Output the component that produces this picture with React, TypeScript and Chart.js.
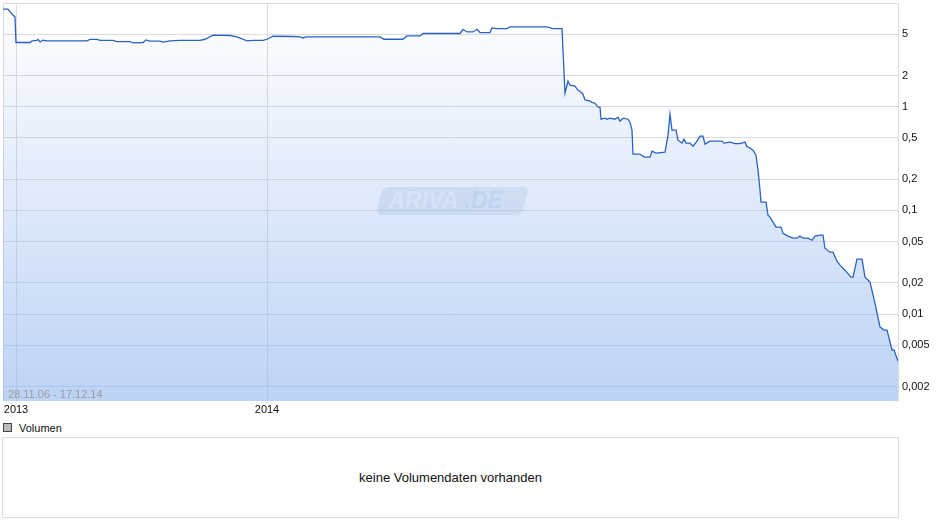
import React, { useEffect, useRef } from 'react';
import { Chart, registerables } from 'chart.js';

Chart.register(...registerables);

// trading-day index since start of the window and closing price
const dayIdx = [
  0, 5, 8, 10, 12, 13, 27, 29, 34, 35, 37, 40, 44, 84, 87, 94, 97, 110, 114, 127, 130, 140, 143, 147,
  157, 160, 167, 177, 197, 202, 210, 227, 234, 244, 250, 260, 264, 270, 290, 297, 300, 303, 377, 381,
  400, 404, 417, 420, 457, 460, 464, 470, 474, 477, 487, 489, 494, 504, 507, 544, 550, 559,
  562, 565, 567, 572, 575, 577, 580, 582, 587, 589, 592, 595, 597, 598, 602, 604, 607, 612, 615, 617,
  620, 625, 627, 629, 630, 637, 640, 642, 647, 649, 653, 662, 665, 667, 669, 673, 675, 679, 681, 683,
  687, 690, 694, 697, 700, 702, 707, 712, 719, 721, 727, 732, 737, 742, 744, 745, 750, 753, 755, 757,
  758, 763, 765, 767, 770, 773, 778, 780, 785, 790, 794, 797, 800, 805, 809, 812, 817, 820, 822, 827,
  830, 834, 837, 842, 848, 850, 854, 859, 862, 867, 872, 877, 881, 884, 889, 891, 895,
];
const price = [
  8.71, 8.71, 8.03, 7.62, 7.34, 4.16, 4.16, 4.31, 4.37, 4.45, 4.21, 4.37, 4.31, 4.31, 4.45, 4.45,
  4.37, 4.37, 4.25, 4.25, 4.12, 4.16, 4.41, 4.28, 4.28, 4.19, 4.31, 4.37, 4.37, 4.47, 4.89, 4.86,
  4.71, 4.31, 4.37, 4.37, 4.47, 4.78, 4.75, 4.71, 4.6, 4.71, 4.71, 4.47, 4.47, 4.81, 4.81, 5.08,
  5.08, 5.58, 5.26, 5.26, 5.58, 5.19, 5.19, 5.75, 5.67, 5.67, 5.88, 5.88, 5.67, 5.67,
  1.35, 1.76, 1.61, 1.58, 1.44, 1.41, 1.32, 1.16, 1.13, 1.1, 1.08, 0.99, 0.99, 0.757, 0.774, 0.757,
  0.774, 0.757, 0.792, 0.724, 0.774, 0.757, 0.708, 0.593, 0.348, 0.348, 0.333, 0.326, 0.326, 0.372,
  0.356, 0.364, 0.531, 0.847, 0.593, 0.593, 0.475, 0.445, 0.486, 0.445, 0.445, 0.416, 0.465, 0.519,
  0.519, 0.435, 0.465, 0.465, 0.465, 0.445, 0.455, 0.44, 0.44, 0.455, 0.41, 0.41, 0.38, 0.341, 0.244,
  0.157, 0.12, 0.12, 0.09, 0.086, 0.077, 0.069, 0.069, 0.06, 0.0564, 0.0539, 0.0539, 0.0564, 0.0539,
  0.0539, 0.0515, 0.0564, 0.0577, 0.0577, 0.0431, 0.0395, 0.0395, 0.0323, 0.0296, 0.0265, 0.0227,
  0.0227, 0.0338, 0.0338, 0.0227, 0.0203, 0.0127, 0.0075, 0.007, 0.007, 0.0045, 0.0045, 0.00352,
  0.00352,
];

const yearTickIdx = [13, 264];
const yearLabels = ['2013', '2014'];
const priceTicks = [0.002, 0.005, 0.01, 0.02, 0.05, 0.1, 0.2, 0.5, 1, 2, 5];
const rangeLabel = '28.11.06 - 17.12.14';
const volumeLegend = 'Volumen';
const noVolumeText = 'keine Volumendaten vorhanden';

const FONT = '"Liberation Sans", Arial, sans-serif';

const frame = {
  id: 'frame',
  beforeDatasetsDraw(chart: any) {
    const { ctx, chartArea: a } = chart;
    ctx.save();
    ctx.strokeStyle = '#dcdcdc';
    ctx.lineWidth = 1;
    ctx.beginPath();
    ctx.moveTo(a.left + 0.5, a.bottom);
    ctx.lineTo(a.left + 0.5, a.top + 0.5);
    ctx.lineTo(a.right, a.top + 0.5);
    ctx.stroke();

    // watermark
    const cx = (a.left + a.right) / 2 + 2;
    const cy = 201;
    ctx.translate(cx, cy);
    ctx.transform(1, 0, -0.25, 1, 0, 0);
    const w = 146, h = 28, r = 6;
    ctx.beginPath();
    ctx.roundRect(-w / 2, -h / 2, w, h, r);
    ctx.fillStyle = 'rgba(165, 185, 215, 0.3)';
    ctx.fill();
    ctx.beginPath();
    ctx.roundRect(w / 2 - 50, -h / 2, 50, h, [0, r, r, 0]);
    ctx.fillStyle = 'rgba(255, 255, 255, 0.16)';
    ctx.fill();
    ctx.setTransform(1, 0, 0, 1, 0, 0);
    ctx.scale(chart.currentDevicePixelRatio, chart.currentDevicePixelRatio);
    ctx.font = `italic bold 23px ${FONT}`;
    ctx.textBaseline = 'middle';
    ctx.textAlign = 'left';
    ctx.fillStyle = 'rgba(255, 255, 255, 0.55)';
    ctx.fillText('ARIVA', cx - 64, cy + 1);
    ctx.fillStyle = 'rgba(165, 185, 215, 0.3)';
    ctx.fillText('.DE', cx + 12, cy + 1);
    ctx.restore();
  },
  afterDatasetsDraw(chart: any) {
    const { ctx, chartArea: a } = chart;
    ctx.save();
    ctx.font = `11px ${FONT}`;
    ctx.fillStyle = '#9a9a9a';
    ctx.textBaseline = 'bottom';
    ctx.fillText(rangeLabel, a.left + 5, a.bottom - 1);
    ctx.restore();
  },
};

function PriceChart() {
  const chartRef = useRef<HTMLCanvasElement | null>(null);
  const myChartRef = useRef<Chart | null>(null);

  useEffect(() => {
    if (myChartRef.current) {
      myChartRef.current.destroy();
    }

    const data = {
      datasets: [
        {
          label: 'Kurs',
          data: dayIdx.map((d, i) => ({ x: d, y: price[i] })),
          borderColor: '#2a62c4',
          borderWidth: 1.3,
          pointRadius: 0,
          tension: 0,
          fill: 'start',
          backgroundColor: (context: any) => {
            const { ctx, chartArea } = context.chart;
            if (!chartArea) return 'rgba(145,182,240,0.4)';
            const g = ctx.createLinearGradient(0, chartArea.top, 0, chartArea.bottom);
            g.addColorStop(0, 'rgba(145,182,240,0.0)');
            g.addColorStop(1, 'rgba(145,182,240,0.6)');
            return g;
          },
        },
      ],
    };

    const options: any = {
      responsive: true,
      maintainAspectRatio: false,
      animation: false,
      layout: { padding: { top: 3, left: 3, right: 0, bottom: 0 } },
      plugins: { legend: { display: false }, tooltip: { enabled: false } },
      scales: {
        x: {
          type: 'linear',
          min: 0,
          max: 895,
          afterBuildTicks: (scale: any) => {
            scale.ticks = yearTickIdx.map((v) => ({ value: v }));
          },
          afterFit: (scale: any) => {
            scale.height = 19;
            scale.paddingLeft = 0;
            scale.paddingRight = 0;
          },
          ticks: {
            autoSkip: false,
            maxRotation: 0,
            padding: 2,
            color: '#111',
            font: { family: FONT, size: 11 },
            callback: (v: number) => yearLabels[yearTickIdx.indexOf(v)] ?? '',
          },
          grid: { color: '#dcdcdc', drawTicks: false },
          border: { display: false },
        },
        y: {
          type: 'logarithmic',
          position: 'right',
          min: 0.00145,
          max: 10,
          afterBuildTicks: (scale: any) => {
            scale.ticks = priceTicks.map((v) => ({ value: v }));
          },
          afterFit: (scale: any) => {
            scale.width = 42;
            scale.paddingTop = 0;
            scale.paddingBottom = 0;
          },
          ticks: {
            autoSkip: false,
            padding: 4,
            crossAlign: 'near',
            color: '#111',
            font: { family: FONT, size: 11 },
            callback: (v: number) => String(v).replace('.', ','),
          },
          grid: { color: '#dcdcdc', drawTicks: false },
          border: { display: true, color: '#dcdcdc' },
        },
      },
    };

    if (chartRef.current) {
      myChartRef.current = new Chart(chartRef.current, {
        type: 'line',
        data: data,
        options: options,
        plugins: [frame],
      });
    }

    return () => {
      if (myChartRef.current) {
        myChartRef.current.destroy();
      }
    };
  }, []);

  return (
    <div style={{ position: 'absolute', left: 0, top: 0, width: '940px', height: '420px' }}>
      <canvas ref={chartRef} />
    </div>
  );
}

export default function App() {
  useEffect(() => {
    document.body.style.margin = '0';
  }, []);

  return (
    <div
      style={{
        position: 'relative',
        width: '940px',
        height: '526px',
        background: '#fff',
        fontFamily: FONT,
        overflow: 'hidden',
      }}
    >
      <PriceChart />
      <div
        style={{
          position: 'absolute',
          left: '3px',
          top: '421px',
          height: '13px',
          display: 'flex',
          alignItems: 'center',
          fontSize: '11px',
          color: '#111',
        }}
      >
        <span
          style={{
            display: 'inline-block',
            width: '7px',
            height: '7px',
            border: '1px solid #444',
            background: '#bbb',
            marginRight: '7px',
          }}
        />
        {volumeLegend}
      </div>
      <div
        style={{
          position: 'absolute',
          left: '2px',
          top: '437px',
          width: '895px',
          height: '79px',
          border: '1px solid #dcdcdc',
          display: 'flex',
          alignItems: 'center',
          justifyContent: 'center',
          fontSize: '13px',
          color: '#111',
        }}
      >
        {noVolumeText}
      </div>
    </div>
  );
}
